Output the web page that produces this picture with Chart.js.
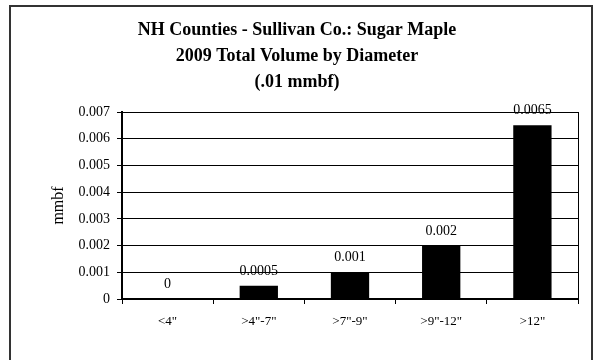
<!DOCTYPE html>
<html>
<head>
<meta charset="utf-8">
<script src="https://cdn.jsdelivr.net/npm/chart.js@4"></script>
<style>
  html, body { margin: 0; padding: 0; background: #fff; }
  #wrap { width: 597px; height: 360px; position: relative; }
</style>
</head>
<body>
<div id="wrap"><canvas id="chart"></canvas></div>
<script>
// Chart data
const categories = ['<4"', '>4"-7"', '>7"-9"', '>9"-12"', '>12"'];
const volumes = [0, 0.0005, 0.001, 0.002, 0.0065];
const valueLabels = ['0', '0.0005', '0.001', '0.002', '0.0065'];
const titleLines = ['NH Counties - Sullivan Co.: Sugar Maple', '2009 Total Volume by Diameter', '(.01 mmbf)'];

const serif = '"Liberation Serif", "Times New Roman", serif';

// Outer frame, title, plot border and value labels
const decorations = {
  id: 'decorations',
  beforeDraw(chart) {
    const c = chart.ctx;
    c.save();
    c.fillStyle = '#fff';
    c.fillRect(0, 0, chart.width, chart.height);
    c.strokeStyle = '#333';
    c.lineWidth = 2;
    c.strokeRect(10, 6, 582, 370);
    c.restore();
  },
  afterDraw(chart) {
    const c = chart.ctx;
    const area = chart.chartArea;
    c.save();
    // title
    c.fillStyle = '#000';
    c.font = 'bold 18px ' + serif;
    c.textAlign = 'center';
    c.textBaseline = 'middle';
    titleLines.forEach((t, i) => c.fillText(t, 297, 30 + i * 26));
    // plot border right side
    c.strokeStyle = '#000';
    c.lineWidth = 1;
    c.beginPath();
    c.moveTo(area.right + 0.5, area.top);
    c.lineTo(area.right + 0.5, area.bottom);
    c.stroke();
    // value labels
    c.font = '14px ' + serif;
    c.textBaseline = 'alphabetic';
    const meta = chart.getDatasetMeta(0);
    meta.data.forEach((bar, i) => {
      c.fillText(valueLabels[i], bar.x, bar.y - 11);
    });
    c.restore();
  }
};

new Chart(document.getElementById('chart'), {
  type: 'bar',
  data: {
    labels: categories,
    datasets: [{
      label: 'mmbf',
      data: volumes,
      backgroundColor: '#000',
      borderColor: '#222',
      borderWidth: 0,
      barPercentage: 0.42,
      categoryPercentage: 1
    }]
  },
  options: {
    responsive: true,
    maintainAspectRatio: false,
    animation: false,
    layout: { padding: { top: 112, right: 19, bottom: 16, left: 0 } },
    plugins: {
      legend: { display: false },
      title: { display: false },
      tooltip: { enabled: false }
    },
    scales: {
      x: {
        afterFit(scale) { scale.height = 45; },
        grid: {
          offset: true,
          drawOnChartArea: false,
          drawTicks: true,
          tickLength: 5,
          color: '#000'
        },
        border: { color: '#000', width: 2 },
        ticks: {
          color: '#000',
          font: { family: serif, size: 13 },
          padding: 10,
          maxRotation: 0
        }
      },
      y: {
        min: 0,
        max: 0.007,
        afterFit(scale) { scale.width = 122; },
        grid: {
          color: '#000',
          lineWidth: 1,
          drawTicks: true,
          tickLength: 5
        },
        border: { color: '#000', width: 2 },
        ticks: {
          stepSize: 0.001,
          color: '#000',
          padding: 7,
          font: { family: serif, size: 14 },
          callback: v => v === 0 ? '0' : v.toFixed(3)
        },
        title: {
          display: true,
          text: 'mmbf',
          color: '#000',
          font: { family: serif, size: 16 },
          padding: { top: 49, bottom: 0 }
        }
      }
    }
  },
  plugins: [decorations]
});
</script>
</body>
</html>
